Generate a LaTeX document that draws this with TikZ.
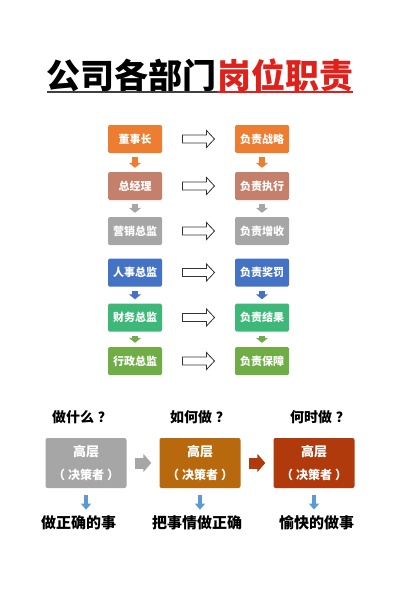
\documentclass[tikz,border=0pt]{standalone}
\usepackage{fontspec}
\setmainfont{Noto Sans CJK SC}
\usetikzlibrary{arrows.meta,calc}
\definecolor{cOrange}{HTML}{ED7D31}
\definecolor{cRose}{HTML}{C4806B}
\definecolor{cGray}{HTML}{A6A6A6}
\definecolor{cBlue}{HTML}{4472C4}
\definecolor{cTeal}{HTML}{3DB878}
\definecolor{cGreen}{HTML}{70AD47}
\definecolor{cBrown}{HTML}{B8690D}
\definecolor{cRust}{HTML}{B13A0C}
\definecolor{cSky}{HTML}{5B9BD5}
\definecolor{cTitle}{HTML}{E0201A}
\begin{document}
\begin{tikzpicture}[x=1pt,y=-1pt,
    box/.style={rounded corners=1.5pt,minimum width=54pt,minimum height=28pt,
      inner sep=0pt,text=white,font=\bfseries\fontsize{11}{12}\selectfont},
    hollow/.style={draw=black!80,fill=white,line width=.8pt},
    down/.style={draw=#1,-{Triangle[width=12pt,length=5pt]},line width=6pt,
      shorten <=4pt,shorten >=4pt},
    big/.style={rounded corners=2pt,minimum width=81pt,minimum height=50pt,
      inner sep=0pt,text=white,align=center,font=\bfseries\fontsize{13}{23}\selectfont},
    chev/.style={draw=#1,-{Triangle[width=18pt,length=8pt]},line width=11pt,
      shorten <=8pt,shorten >=8pt},
    blue/.style={draw=cSky,-{Triangle[width=10pt,length=6pt]},line width=4pt,
      shorten <=7pt,shorten >=6pt},
    ask/.style={inner sep=0pt,font=\bfseries\fontsize{14}{16}\selectfont},
    result/.style={inner sep=0pt,font=\bfseries\fontsize{15}{17}\selectfont}]
  \useasboundingbox (0,0) rectangle (400,615);

  % title
  \node[inner sep=0pt,anchor=east,font=\bfseries\fontsize{34}{40}\selectfont] (T1) at (217,75) {公司各部门};
  \node[inner sep=0pt,anchor=west,text=cTitle,font=\bfseries\fontsize{34}{40}\selectfont] (T2) at (217,75) {岗位职责};
  \draw[line width=1.6pt,black!75] (T1.west |- 0,92) -- (T1.east |- 0,92);
  \draw[line width=1.6pt,cTitle] (T2.west |- 0,92) -- (T2.east |- 0,92);

  % departments and duties
  \foreach \y/\a/\b/\c [count=\i] in {139/董事长/负责战略/cOrange,
      186/总经理/负责执行/cRose, 231/营销总监/负责增收/cGray,
      272.5/人事总监/负责奖罚/cBlue, 317.5/财务总监/负责结果/cTeal,
      361/行政总监/负责保障/cGreen}{
    \node[box,fill=\c] (L\i) at (135,\y) {\a};
    \node[box,fill=\c] (R\i) at (262,\y) {\b};
  }
  \foreach \i in {1,...,6}{
    \coordinate (m\i) at ($(L\i.east)!.5!(R\i.west)$);
    \draw[hollow] ([shift={(-16,-4)}]m\i) -- ([shift={(8,-4)}]m\i)
      -- ([shift={(8,-8.5)}]m\i) -- ([shift={(16,0)}]m\i)
      -- ([shift={(8,8.5)}]m\i) -- ([shift={(8,4)}]m\i)
      -- ([shift={(-16,4)}]m\i) -- cycle;
  }
  \foreach \s/\t/\c in {1/2/cOrange, 2/3/cGray, 4/5/cBlue, 5/6/cGreen}{
    \draw[down=\c] (L\s) -- (L\t);
    \draw[down=\c] (R\s) -- (R\t);
  }

  % bottom
  \node[ask] (Q1) at (82,417) {做什么\hspace{4pt}？};
  \node[ask] (Q2) at (200,417) {如何做\hspace{4pt}？};
  \node[ask] (Q3) at (320,417) {何时做\hspace{4pt}？};
  \node[big,fill=cGray] (H1) at (86,463) {高层\\{\fontsize{12}{14}\selectfont（\hspace{3pt}决策者\hspace{3pt}）}};
  \node[big,fill=cBrown] (H2) at (200,463) {高层\\{\fontsize{12}{14}\selectfont（\hspace{3pt}决策者\hspace{3pt}）}};
  \node[big,fill=cRust] (H3) at (314,463) {高层\\{\fontsize{12}{14}\selectfont（\hspace{3pt}决策者\hspace{3pt}）}};
  \draw[chev=cGray] (H1) -- (H2);
  \draw[chev=cRust] (H2) -- (H3);
  \node[result] (D1) at (78.5,523) {做正确的事};
  \node[result] (D2) at (197,523) {把事情做正确};
  \node[result] (D3) at (316.5,523) {愉快的做事};
  \foreach \i in {1,2,3}
    \draw[blue] (H\i.south) -- (H\i.south |- D\i.north);
\end{tikzpicture}
\end{document}
